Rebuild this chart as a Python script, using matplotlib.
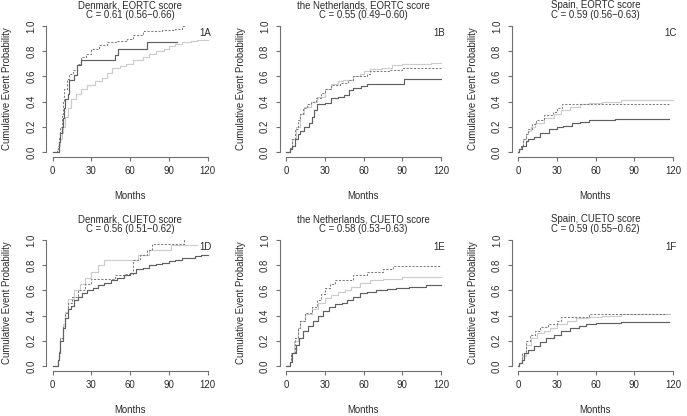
import matplotlib
matplotlib.use('Agg')
from matplotlib import pyplot as plt

plt.rcParams['font.family'] = ['Liberation Sans', 'DejaVu Sans']

titles = ['Denmark, EORTC score', 'the Netherlands, EORTC score', 'Spain, EORTC score',
          'Denmark, CUETO score', 'the Netherlands, CUETO score', 'Spain, CUETO score']
cstats = ['C = 0.61 (0.56\u22120.66)', 'C = 0.55 (0.49\u22120.60)', 'C = 0.59 (0.56\u22120.63)',
          'C = 0.56 (0.51\u22120.62)', 'C = 0.58 (0.53\u22120.63)', 'C = 0.59 (0.55\u22120.62)']
panel_tags = ['1A', '1B', '1C', '1D', '1E', '1F']
x_ticks = [0, 30, 60, 90, 120]
y_ticks = [0.0, 0.2, 0.4, 0.6, 0.8, 1.0]

# 1A
a1_t = [0, 5, 6, 7, 8, 9, 10, 12, 13, 17, 19, 22, 48, 51, 73, 96]
a1_y = [0, 0.08, 0.15, 0.2, 0.27, 0.35, 0.42, 0.46, 0.57, 0.61, 0.69, 0.73, 0.77, 0.82, 0.87, 0.87]
b1_t = [0, 3.5, 4, 5, 6, 7, 8, 9, 11, 13, 16, 19, 22, 26, 30, 36, 42, 50, 58, 62, 70, 85, 95, 100, 103]
b1_y = [0, 0.02, 0.05, 0.12, 0.2, 0.3, 0.4, 0.5, 0.58, 0.62, 0.65, 0.7, 0.75, 0.78, 0.82, 0.85, 0.87,
        0.88, 0.9, 0.93, 0.96, 0.97, 0.98, 1.0, 1.0]
c1_t = [0, 5, 6, 7, 8, 10, 12, 14, 18, 22, 27, 33, 38, 42, 46, 52, 57, 62, 70, 75, 80, 86, 90, 95,
        100, 107, 112, 120]
c1_y = [0, 0.05, 0.1, 0.15, 0.2, 0.28, 0.35, 0.42, 0.46, 0.5, 0.53, 0.56, 0.59, 0.63, 0.67, 0.68,
        0.7, 0.73, 0.75, 0.78, 0.8, 0.82, 0.84, 0.86, 0.87, 0.88, 0.89, 0.89]

# 1B
a2_t = [0, 3, 5, 7, 9, 11, 14, 18, 20, 22, 24, 30, 35, 40, 45, 49, 52, 58, 63, 91, 120]
a2_y = [0, 0.02, 0.05, 0.1, 0.14, 0.17, 0.2, 0.23, 0.28, 0.33, 0.38, 0.39, 0.43, 0.44, 0.45, 0.49,
        0.51, 0.52, 0.54, 0.58, 0.58]
b2_t = [0, 3, 5, 7, 9, 11, 13, 16, 19, 23, 27, 30, 35, 42, 48, 52, 63, 65, 80, 90, 120]
b2_y = [0, 0.03, 0.1, 0.18, 0.25, 0.3, 0.35, 0.38, 0.4, 0.43, 0.47, 0.5, 0.53, 0.55, 0.57, 0.6,
        0.62, 0.64, 0.65, 0.67, 0.67]
c2_t = [0, 3, 5, 8, 11, 14, 19, 24, 30, 35, 40, 44, 52, 57, 60, 65, 74, 82, 90, 112, 120]
c2_y = [0, 0.03, 0.1, 0.2, 0.3, 0.36, 0.4, 0.44, 0.5, 0.54, 0.56, 0.57, 0.6, 0.62, 0.64, 0.66,
        0.67, 0.69, 0.7, 0.71, 0.71]

# 1C
a3_t = [0, 1, 3, 6, 8, 12, 17, 24, 30, 35, 42, 48, 55, 65, 75, 117]
a3_y = [0, 0.02, 0.05, 0.09, 0.1, 0.12, 0.15, 0.18, 0.2, 0.21, 0.23, 0.24, 0.25, 0.255, 0.26, 0.26]
b3_t = [0, 1, 2, 4, 6, 8, 11, 14, 20, 27, 30, 34, 117]
b3_y = [0, 0.02, 0.05, 0.1, 0.14, 0.18, 0.22, 0.25, 0.29, 0.32, 0.35, 0.38, 0.38]
c3_t = [0, 1, 2, 4, 6, 8, 10, 13, 20, 28, 33, 40, 48, 55, 65, 80, 120]
c3_y = [0, 0.02, 0.05, 0.1, 0.14, 0.17, 0.2, 0.23, 0.27, 0.3, 0.33, 0.36, 0.38, 0.39, 0.4, 0.41, 0.41]

# 1D
a4_t = [0, 4, 5, 6, 8, 10, 12, 14, 17, 20, 23, 27, 31, 35, 40, 45, 50, 55, 60, 65, 70, 75, 80,
        85, 90, 95, 100, 110, 115, 120]
a4_y = [0, 0.05, 0.1, 0.2, 0.3, 0.38, 0.45, 0.48, 0.52, 0.55, 0.58, 0.6, 0.62, 0.64, 0.66, 0.68,
        0.7, 0.72, 0.74, 0.77, 0.78, 0.8, 0.81, 0.82, 0.83, 0.84, 0.86, 0.87, 0.88, 0.88]
b4_t = [0, 4, 5, 6, 8, 10, 12, 15, 20, 25, 30, 45, 48, 55, 62, 68, 73, 77, 98, 102, 103]
b4_y = [0, 0.05, 0.12, 0.22, 0.32, 0.42, 0.5, 0.55, 0.6, 0.65, 0.69, 0.69, 0.72, 0.73, 0.84, 0.88,
        0.92, 0.97, 0.97, 1.0, 1.0]
c4_t = [0, 4, 5, 6, 8, 10, 12, 17, 21, 25, 30, 35, 40, 66, 75, 92, 112]
c4_y = [0, 0.05, 0.12, 0.22, 0.33, 0.43, 0.53, 0.6, 0.65, 0.7, 0.75, 0.8, 0.84, 0.88, 0.92, 0.96, 0.96]

# 1E
a5_t = [0, 3, 5, 8, 10, 13, 17, 21, 25, 29, 33, 38, 43, 47, 52, 57, 63, 70, 78, 85, 95, 108, 120]
a5_y = [0, 0.03, 0.1, 0.17, 0.22, 0.28, 0.32, 0.36, 0.4, 0.44, 0.47, 0.49, 0.5, 0.52, 0.55, 0.58,
        0.59, 0.6, 0.61, 0.62, 0.63, 0.64, 0.645]
b5_t = [0, 3, 4, 7, 9, 11, 15, 20, 24, 27, 30, 34, 38, 48, 52, 63, 75, 83, 120]
b5_y = [0, 0.03, 0.1, 0.22, 0.3, 0.36, 0.42, 0.47, 0.52, 0.57, 0.62, 0.65, 0.68, 0.68, 0.72, 0.75,
        0.77, 0.79, 0.79]
c5_t = [0, 3, 4, 6, 9, 11, 15, 20, 25, 30, 35, 40, 46, 50, 57, 65, 75, 90, 120]
c5_y = [0, 0.03, 0.1, 0.2, 0.3, 0.36, 0.41, 0.45, 0.5, 0.54, 0.56, 0.59, 0.6, 0.63, 0.66, 0.68,
        0.69, 0.71, 0.71]

# 1F
a6_t = [0, 1, 3, 5, 8, 12, 17, 22, 28, 33, 40, 47, 53, 60, 70, 80, 117]
a6_y = [0, 0.02, 0.05, 0.1, 0.13, 0.16, 0.19, 0.22, 0.25, 0.28, 0.3, 0.32, 0.33, 0.34, 0.345, 0.35, 0.35]
b6_t = [0, 1, 3, 6, 9, 13, 17, 23, 30, 33, 53, 55, 115]
b6_y = [0, 0.02, 0.1, 0.2, 0.25, 0.28, 0.31, 0.33, 0.36, 0.39, 0.39, 0.41, 0.41]
c6_t = [0, 1, 3, 6, 10, 15, 20, 25, 30, 38, 45, 55, 65, 80, 118]
c6_y = [0, 0.02, 0.08, 0.17, 0.22, 0.26, 0.28, 0.3, 0.33, 0.36, 0.38, 0.39, 0.4, 0.41, 0.41]

curves = [
    [(a1_t, a1_y), (b1_t, b1_y), (c1_t, c1_y)],
    [(a2_t, a2_y), (b2_t, b2_y), (c2_t, c2_y)],
    [(a3_t, a3_y), (b3_t, b3_y), (c3_t, c3_y)],
    [(a4_t, a4_y), (b4_t, b4_y), (c4_t, c4_y)],
    [(a5_t, a5_y), (b5_t, b5_y), (c5_t, c5_y)],
    [(a6_t, a6_y), (b6_t, b6_y), (c6_t, c6_y)],
]
styles = [dict(color='#606060', ls='-', lw=0.85),
          dict(color='#7c7c7c', ls=(0, (2, 1.5)), lw=0.75),
          dict(color='#cccccc', ls='-', lw=0.85)]

W, H = 687, 416
fig = plt.figure(figsize=(W / 100, H / 100), dpi=100)

col_x0 = [52.5, 286, 518]   # pixel of x = 0
row_y0 = [152, 366]         # pixel of y = 0
xw = 155.0                  # pixels for 120 months
yh = 126.0                  # pixels for probability 1
fs = 6.9
txt = '#2a2a2a'
axc = '#707070'

for i in range(6):
    r, c = divmod(i, 3)
    sx = xw / 120
    left = col_x0[c] - 4.8 * sx
    bottom = row_y0[r] + 0.04 * yh
    ax = fig.add_axes([left / W, 1 - bottom / H, xw * 1.08 / W, yh * 1.08 / H])
    # light curve first so the darker ones sit on top
    for k in [2, 1, 0]:
        t, y = curves[i][k]
        ax.step(t, y, where='post', **styles[k])
    ax.set_xlim(-4.8, 124.8)
    ax.set_ylim(-0.04, 1.04)
    for s in ['top', 'right']:
        ax.spines[s].set_visible(False)
    ax.spines['left'].set_bounds(0, 1)
    ax.spines['bottom'].set_bounds(0, 120)
    for s in ['left', 'bottom']:
        ax.spines[s].set_color(axc)
        ax.spines[s].set_linewidth(0.8)
    ax.set_xticks(x_ticks)
    ax.set_yticks(y_ticks)
    ax.set_yticklabels(['%.1f' % v for v in y_ticks], rotation=90, va='center')
    ax.tick_params(axis='both', direction='out', length=3, width=0.8, color=axc,
                   labelsize=fs, labelcolor=txt)
    ax.tick_params(axis='x', pad=3.5)
    ax.tick_params(axis='y', pad=4)
    ax.patch.set_visible(False)

    cx = col_x0[c] + xw / 2
    fig.text(cx / W, 1 - (row_y0[r] - 147) / H, titles[i], ha='center', va='center',
             fontsize=fs, color=txt)
    fig.text(cx / W, 1 - (row_y0[r] - 136.5) / H, cstats[i], ha='center', va='center',
             fontsize=fs, color=txt)
    fig.text(cx / W, 1 - (row_y0[r] + 44) / H, 'Months', ha='center', va='center',
             fontsize=fs, color=txt)
    fig.text((col_x0[c] - 45.5) / W, 1 - (row_y0[r] - yh / 2) / H, 'Cumulative Event Probability',
             ha='center', va='center', rotation=90, fontsize=fs, color=txt)
    ax.text(0.985, 0.915, panel_tags[i], transform=ax.transAxes, ha='right', va='center',
            fontsize=fs, color=txt)

plt.savefig('out.png', dpi=100)
